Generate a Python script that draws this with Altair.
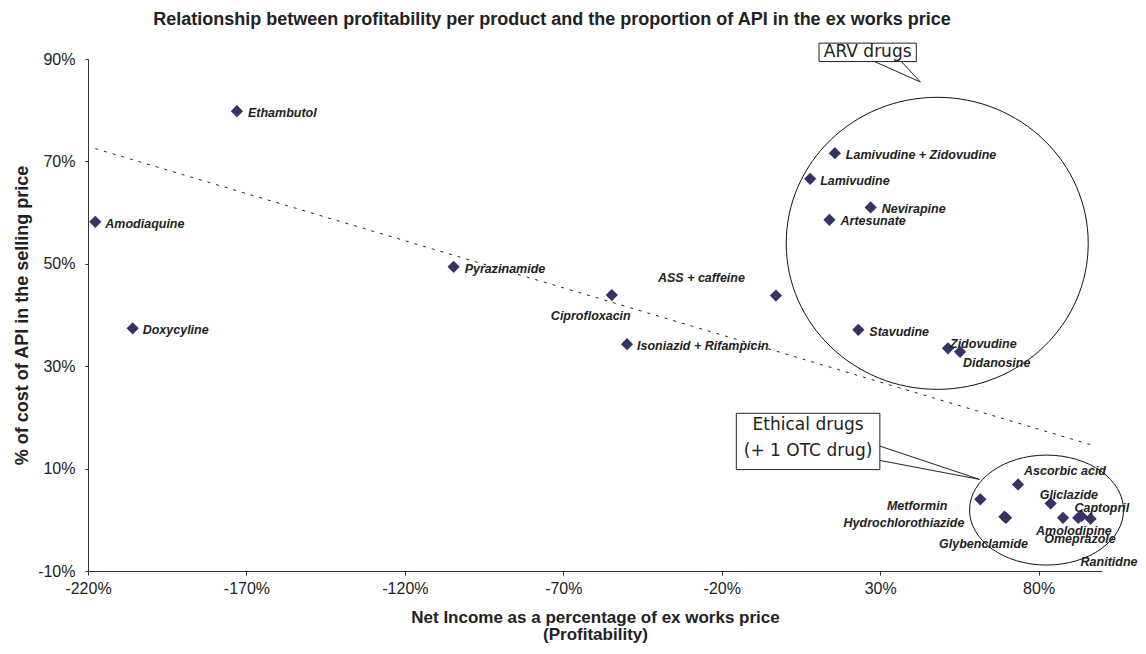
import altair as alt
import pandas as pd

# ---- data ----
drugs = [
    "Amodiaquine", "Ethambutol", "Doxycyline", "Pyrazinamide", "Ciprofloxacin",
    "Isoniazid + Rifampicin", "ASS + caffeine", "Lamivudine + Zidovudine",
    "Lamivudine", "Nevirapine", "Artesunate", "Stavudine", "Zidovudine",
    "Didanosine", "Metformin", "Hydrochlorothiazide", "Glybenclamide",
    "Ascorbic acid", "Gliclazide", "Amolodipine", "Omeprazole", "Captopril",
    "Ranitidne",
]
profitability = [
    -217.7, -173.0, -205.9, -104.6, -54.7,
    -49.9, -2.9, 15.7,
    7.9, 27.0, 14.0, 23.1, 51.4,
    55.2, 61.6, 69.2, 69.7,
    73.5, 83.8, 87.7, 92.5, 93.5,
    96.4,
]
api_share = [
    58.2, 79.8, 37.4, 49.4, 43.9,
    34.3, 43.8, 71.6,
    66.6, 61.0, 58.6, 37.1, 33.5,
    32.8, 4.0, 0.6, 0.4,
    6.9, 3.2, 0.4, 0.4, 0.7,
    0.2,
]

x_ticks = [-220, -170, -120, -70, -20, 30, 80]
y_ticks = [-10, 10, 30, 50, 70, 90]

# annotation geometry (data units)
arv_box = {"x": 10.7, "x2": 41.4, "y": 93.1, "y2": 89.5, "label": "ARV drugs"}
eth_box = {"x": -15.4, "x2": 29.9, "y": 20.8, "y2": 9.8}
eth_lines = ["Ethical drugs", "(+ 1 OTC drug)"]
eth_line_y = [18.5, 13.5]
pointer_x = [28.2, 36.7, 29.9, 29.9]
pointer_y = [89.5, 89.5, 14.4, 11.6]
pointer_tip_x = [42.7, 42.7, 61.3, 61.3]
pointer_tip_y = [85.5, 85.5, 7.9, 7.9]
ellipse_cx = [48.0, 82.5]
ellipse_cy = [54.0, 1.9]

# label placement (pixels relative to marker): dx, dy, align
label_style = {
    "Amodiaquine": (10, 2, "left"),
    "Ethambutol": (11, 2, "left"),
    "Doxycyline": (10, 2, "left"),
    "Pyrazinamide": (11, 2, "left"),
    "Ciprofloxacin": (-21, 21, "center"),
    "Isoniazid + Rifampicin": (10, 2, "left"),
    "ASS + caffeine": (-31, -18, "right"),
    "Lamivudine + Zidovudine": (11, 2, "left"),
    "Lamivudine": (10, 2, "left"),
    "Nevirapine": (11, 2, "left"),
    "Artesunate": (11, 1, "left"),
    "Stavudine": (11, 2, "left"),
    "Zidovudine": (2, -4, "left"),
    "Didanosine": (3, 11, "left"),
    "Metformin": (-33, 7, "right"),
    "Hydrochlorothiazide": (-40, 6, "right"),
    "Glybenclamide": (22, 26, "right"),
    "Ascorbic acid": (6, -13, "left"),
    "Gliclazide": (-11, -8, "left"),
    "Amolodipine": (-27, 13, "left"),
    "Omeprazole": (-34, 21, "left"),
    "Captopril": (-7, -8, "left"),
    "Ranitidne": (-10, 43, "left"),
}

df = pd.DataFrame({"drug": drugs, "profit": profitability, "api": api_share})

FONT = "Liberation Sans"
xs = alt.Scale(domain=[-220, 100], nice=False, zero=False)
ys = alt.Scale(domain=[-10, 90], nice=False, zero=False)

x_axis = alt.Axis(
    values=x_ticks, labelExpr="datum.value + '%'", grid=False, tickSize=4,
    labelPadding=5, labelFontSize=16, labelFont=FONT, labelColor="#222",
    domainColor="#333", tickColor="#333", titleFont=FONT, titleFontSize=17,
    titleFontWeight="bold", titleColor="#222", titlePadding=13, titleLineHeight=17,
    labelFlush=False,
)
y_axis = alt.Axis(
    values=y_ticks, labelExpr="datum.value + '%'", grid=False, tickSize=3,
    labelPadding=10, labelFontSize=16, labelFont=FONT, labelColor="#222",
    domainColor="#333", tickColor="#333", titleFont=FONT, titleFontSize=18,
    titleFontWeight="bold", titleColor="#222", titlePadding=6, labelFlush=False,
)
X_TITLE = ["Net Income as a percentage of ex works price", "(Profitability)"]
Y_TITLE = "% of cost of API in the selling price"


def X(field):
    return alt.X(field, scale=xs, axis=x_axis, title=X_TITLE)


def Y(field):
    return alt.Y(field, scale=ys, axis=y_axis, title=Y_TITLE)


base = alt.Chart(df)

points = base.mark_point(shape="diamond", filled=True, size=150, opacity=1,
                         color="#333366").encode(x=X("profit:Q"), y=Y("api:Q"))

trend = base.transform_regression("profit", "api").mark_line(
    stroke="#222", strokeWidth=1, strokeDash=[3, 6]
).encode(x=X("profit:Q"), y=Y("api:Q"))

ell_df = pd.DataFrame({"cx": ellipse_cx, "cy": ellipse_cy, "name": ["arv", "eth"]})
ell_shapes = {
    "arv": ("M -1 0 A 1 0.967 0 1 0 1 0 A 1 0.967 0 1 0 -1 0 Z", 302 ** 2),
    "eth": ("M -1 0 A 1 0.714 0 1 0 1 0 A 1 0.714 0 1 0 -1 0 Z", 154 ** 2),
}
ellipses = []
for name, (path, sz) in ell_shapes.items():
    ellipses.append(
        alt.Chart(ell_df).transform_filter(alt.datum.name == name).mark_point(
            shape=path, size=sz, filled=False, stroke="#111", strokeWidth=1, opacity=1
        ).encode(x=X("cx:Q"), y=Y("cy:Q"))
    )

ptr_df = pd.DataFrame({"x": pointer_x, "y": pointer_y,
                       "x2": pointer_tip_x, "y2": pointer_tip_y})
pointers = alt.Chart(ptr_df).mark_rule(color="#222", strokeWidth=1).encode(
    x=X("x:Q"), y=Y("y:Q"), x2="x2:Q", y2="y2:Q",
)

box_df = pd.DataFrame([arv_box, eth_box])
boxes = alt.Chart(box_df).mark_rect(fill="white", stroke="#222", strokeWidth=1).encode(
    x=X("x:Q"), x2="x2:Q", y=Y("y:Q"), y2="y2:Q",
)

box_text_df = pd.DataFrame({
    "t": [arv_box["label"]] + eth_lines,
    "x": [(arv_box["x"] + arv_box["x2"]) / 2] + [(eth_box["x"] + eth_box["x2"]) / 2] * 2,
    "y": [(arv_box["y"] + arv_box["y2"]) / 2] + eth_line_y,
})
box_text = alt.Chart(box_text_df).mark_text(
    font="DejaVu Sans", fontSize=17, color="#222", baseline="middle", align="center"
).encode(x=X("x:Q"), y=Y("y:Q"), text="t:N")

labels = []
for name, (dx, dy, align) in label_style.items():
    labels.append(
        base.transform_filter(alt.datum.drug == name).mark_text(
            dx=dx, dy=dy, align=align, baseline="middle", font=FONT, fontSize=12.5,
            fontStyle="italic", fontWeight="bold", color="#222"
        ).encode(x=X("profit:Q"), y=Y("api:Q"), text="drug:N")
    )

chart = alt.layer(trend, *ellipses, pointers, boxes, box_text, points, *labels).properties(
    width=1014, height=512,
    padding={"left": 80, "top": 51, "right": 36, "bottom": 75},
    autosize=alt.AutoSizeParams(type="none"),
    title=alt.TitleParams(
        "Relationship between profitability per product and the proportion of API in the ex works price",
        font=FONT, fontSize=18, fontWeight="bold", color="#222", anchor="middle",
        frame="group", dx=-43, offset=14,
    ),
).configure_view(stroke=None)

chart.save("out.html", embed_options={"renderer": "svg", "actions": False})
